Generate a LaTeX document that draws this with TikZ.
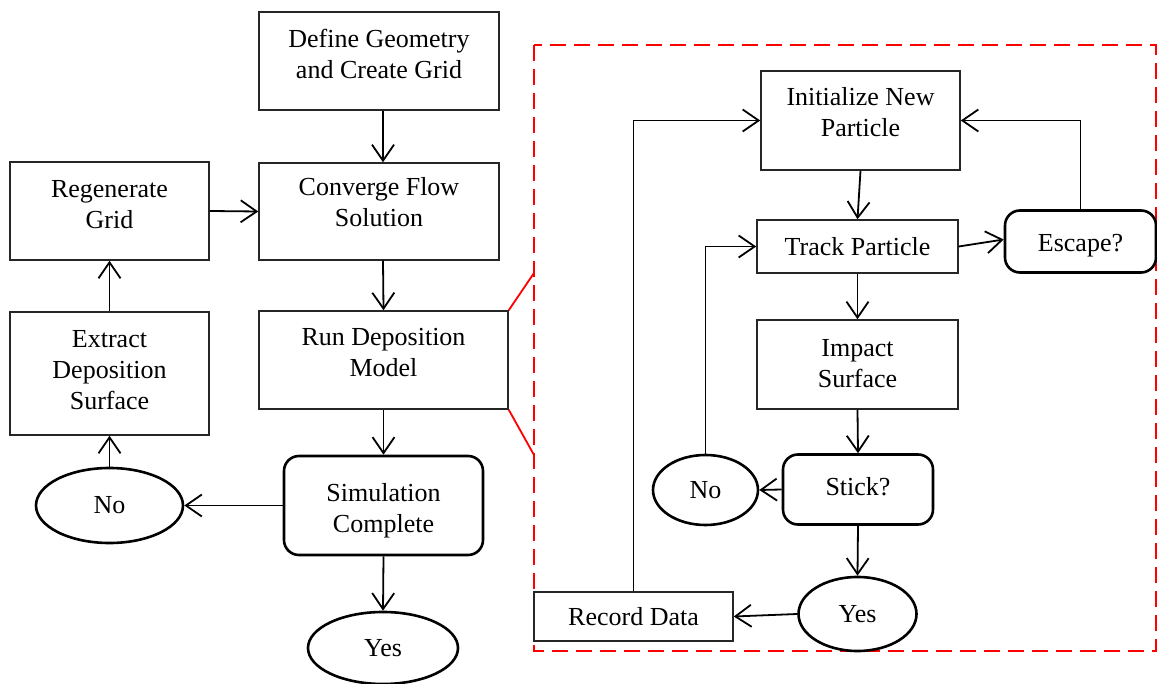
\documentclass[tikz,border=0pt]{standalone}
\usepackage{fontspec}
\setmainfont{Liberation Serif}
\usetikzlibrary{arrows.meta,shapes.geometric,calc}
\newcommand\liftt[2]{\raisebox{#1}[\height][\depth]{\begin{tabular}{@{}c@{}}#2\end{tabular}}}
\begin{document}
\begin{tikzpicture}[x=1pt,y=-1pt,
  every node/.style={font=\fontsize{26}{31}\selectfont, align=center, inner sep=0pt},
  box/.style={draw=black!85, line width=1.5pt, rectangle, minimum width=#1},
  rbox/.style={draw=black, line width=2.6pt, rectangle, rounded corners=15pt},
  oval/.style={draw=black, line width=2.6pt, ellipse},
  arr/.style={draw=black, line width=1.8pt, -{Straight Barb[length=16pt,width=22pt,line width=1.8pt]}},
  redl/.style={draw=red, line width=1.8pt},
]
\useasboundingbox (0,0) rectangle (1157,684);

% left column
\node[box=240pt, minimum height=98pt] (def) at (379,61) {\liftt{4pt}{Define Geometry\\and Create Grid}};
\node[box=240pt, minimum height=97pt] (conv) at (379,211.5) {\liftt{7pt}{Converge Flow\\Solution}};
\node[box=199pt, minimum height=98pt] (regen) at (109.5,211) {\liftt{4.5pt}{Regenerate\\Grid}};
\node[box=199pt, minimum height=123pt] (extract) at (109.5,373.5) {\liftt{1pt}{Extract\\Deposition\\Surface}};
\node[box=249pt, minimum height=98pt] (run) at (383.5,360) {\liftt{5pt}{Run Deposition\\Model}};
\node[rbox, minimum width=199pt, minimum height=99pt] (sim) at (383.5,505.5) {\liftt{-5pt}{Simulation\\Complete}};
\node[oval, minimum width=147pt, minimum height=75pt] (no1) at (109.5,505.5) {No};
\node[oval, minimum width=150pt, minimum height=72pt] (yes1) at (383,648) {Yes};

% dashed region
\draw[red, line width=2.4pt, dash pattern=on 16pt off 8pt] (534,45) rectangle (1156,651);
\coordinate (z1) at (534,273);
\coordinate (z2) at (534,455);
\draw[redl] (run.north east) -- (z1);
\draw[redl] (run.south east) -- (z2);

% right region
\node[box=199pt, minimum height=99pt] (init) at (860.5,120.5) {\liftt{6pt}{Initialize New\\Particle}};
\node[box=201pt, minimum height=53pt] (track) at (857.5,246.5) {Track Particle};
\node[rbox, minimum width=151pt, minimum height=62pt] (escape) at (1080.5,241.5) {\liftt{-3.5pt}{Escape?}};
\node[box=201pt, minimum height=89pt] (impact) at (857.5,364.5) {\liftt{-1.5pt}{Impact\\Surface}};
\node[rbox, minimum width=150pt, minimum height=70pt] (stick) at (858,489.5) {\liftt{0pt}{Stick?}};
\node[oval, minimum width=105pt, minimum height=70pt] (no2) at (705.5,490) {\liftt{-2pt}{No}};
\node[oval, minimum width=118pt, minimum height=74pt] (yes2) at (857.5,614) {Yes};
\node[box=199pt, minimum height=49pt] (record) at (633.5,616.5) {Record Data};

% connectors left
\draw[arr] ([xshift=4pt]def.south) -- ([xshift=4pt]conv.north);
\draw[arr] ([xshift=4pt]conv.south) -- (run.north);
\draw[arr] (run.south) -- (sim.north);
\draw[arr] (sim.south) -- (yes1.north);
\draw[arr] (sim.west) -- (no1.east);
\draw[arr] (no1.north) -- (extract.south);
\draw[arr] (extract.north) -- (regen.south);
\draw[arr] (regen.east) -- (conv.west);

% connectors right
\draw[arr] (init.south) -- (track.north);
\draw[arr] (track.east) -- ([yshift=2pt]escape.west);
\draw[arr] (escape.north) |- (init.east);
\draw[arr] (track.south) -- (impact.north);
\draw[arr] (impact.south) -- (stick.north);
\draw[arr] (stick.west) -- (no2.east);
\draw[arr] (no2.north) |- (track.west);
\draw[arr] (stick.south) -- (yes2.north);
\draw[arr] (yes2.west) -- (record.east);
\draw[arr] (record.north) |- (init.west);
\end{tikzpicture}
\end{document}
